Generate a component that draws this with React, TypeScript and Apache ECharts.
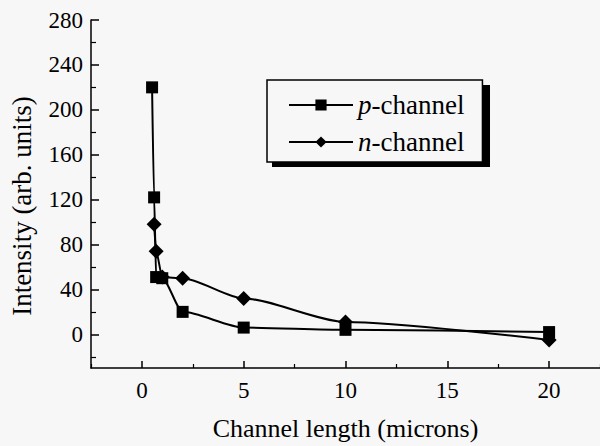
import React, { useEffect, useRef } from 'react';
import * as echarts from 'echarts';

const pChannelX = [0.5, 0.6, 0.7, 1, 2, 5, 10, 20];
const pChannelY = [220, 122, 51, 50, 20, 6, 4, 2];
const nChannelX = [0.6, 0.7, 1, 2, 5, 10, 20];
const nChannelY = [98, 74, 51, 50, 32, 11, -5];

const xMajorTicks = [0, 5, 10, 15, 20];
const xMinorTicks = [-2.5, 2.5, 7.5, 12.5, 17.5, 22.5];
const yMajorTicks = [0, 40, 80, 120, 160, 200, 240, 280];
const yMinorTicks = [-20, 20, 60, 100, 140, 180, 220, 260];

const FONT = 'Liberation Serif';
const BG = '#f7f7f7';

export default function App() {
  const ref = useRef<HTMLDivElement>(null);
  useEffect(() => {
    if (!ref.current) return;
    const chart = echarts.init(ref.current, undefined, { renderer: 'svg' });
    const pData = pChannelX.map((x, i) => [x, pChannelY[i]]);
    const nData = nChannelX.map((x, i) => [x, nChannelY[i]]);
    const tickFont = { fontFamily: FONT, fontSize: 23, color: '#000' };
    chart.setOption({
      animation: false,
      backgroundColor: BG,
      textStyle: { fontFamily: FONT, color: '#000' },
      grid: { left: 90, right: 0, top: 20, bottom: 71, containLabel: false },
      graphic: [
        {
          type: 'rect',
          z: 1,
          shape: { x: 272, y: 85, width: 218, height: 82 },
          style: { fill: '#000' },
        },
      ],
      legend: {
        z: 5,
        orient: 'vertical',
        left: 267,
        top: 80,
        padding: [11, 18, 6, 21],
        itemGap: 9,
        itemWidth: 64,
        itemHeight: 14,
        backgroundColor: BG,
        borderColor: '#000',
        borderWidth: 1.5,
        borderRadius: 0,
        data: ['p-channel', 'n-channel'],
        formatter: (name: string) => `{i|${name.charAt(0)}}{r|${name.slice(1)}}`,
        textStyle: {
          fontFamily: FONT,
          fontSize: 27,
          color: '#000',
          lineHeight: 28,
          rich: {
            i: { fontFamily: FONT, fontSize: 27, fontStyle: 'italic', color: '#000', lineHeight: 28 },
            r: { fontFamily: FONT, fontSize: 27, color: '#000', lineHeight: 28 },
          },
        },
      },
      xAxis: [
        {
          type: 'value',
          min: -2.5,
          max: 22.5,
          position: 'bottom',
          name: 'Channel length (microns)',
          nameLocation: 'middle',
          nameGap: 47,
          nameTextStyle: { fontFamily: FONT, fontSize: 26, color: '#000' },
          axisLine: { onZero: false, lineStyle: { color: '#000', width: 1.5 } },
          axisTick: { inside: true, length: 7, customValues: xMajorTicks, lineStyle: { color: '#000', width: 1.5 } },
          axisLabel: { customValues: xMajorTicks, margin: 11, ...tickFont },
          splitLine: { show: false },
        },
        {
          type: 'value',
          min: -2.5,
          max: 22.5,
          position: 'bottom',
          offset: 0,
          axisLine: { show: false, onZero: false },
          axisTick: { inside: true, length: 4, customValues: xMinorTicks, lineStyle: { color: '#000', width: 1.2 } },
          axisLabel: { show: false },
          splitLine: { show: false },
        },
      ],
      yAxis: [
        {
          type: 'value',
          min: -30,
          max: 280,
          position: 'left',
          name: 'Intensity (arb. units)',
          nameLocation: 'middle',
          nameGap: 56,
          nameTextStyle: { fontFamily: FONT, fontSize: 27, color: '#000', padding: [0, 24, 0, 0] },
          axisLine: { show: true, onZero: false, lineStyle: { color: '#000', width: 1.5 } },
          axisTick: { show: true, inside: true, length: 8, customValues: yMajorTicks, lineStyle: { color: '#000', width: 1.5 } },
          axisLabel: { customValues: yMajorTicks, margin: 8, ...tickFont },
          splitLine: { show: false },
        },
        {
          type: 'value',
          min: -30,
          max: 280,
          position: 'left',
          offset: 0,
          axisLine: { show: false, onZero: false },
          axisTick: { show: true, inside: true, length: 5, customValues: yMinorTicks, lineStyle: { color: '#000', width: 1.2 } },
          axisLabel: { show: false },
          splitLine: { show: false },
        },
      ],
      series: [
        {
          name: 'p-channel',
          type: 'line',
          data: pData,
          smooth: 0.25,
          smoothMonotone: 'x',
          symbol: 'rect',
          symbolSize: 12,
          showAllSymbol: true,
          lineStyle: { color: '#000', width: 2 },
          itemStyle: { color: '#000' },
        },
        {
          name: 'n-channel',
          type: 'line',
          data: nData,
          smooth: 0.25,
          smoothMonotone: 'x',
          symbol: 'diamond',
          symbolSize: 15,
          showAllSymbol: true,
          lineStyle: { color: '#000', width: 2 },
          itemStyle: { color: '#000' },
        },
      ],
    });
    return () => chart.dispose();
  }, []);
  return <div ref={ref} style={{ width: 600, height: 446, position: 'absolute', left: 0, top: 0 }} />;
}
